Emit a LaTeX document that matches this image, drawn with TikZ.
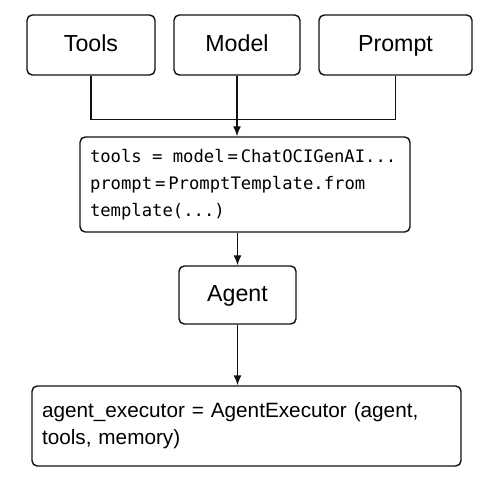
\documentclass[tikz,border=0pt]{standalone}
\usepackage{fontspec}
\usepackage{tikz}
\usetikzlibrary{
  arrows.meta,
  calc,
  positioning
}
\newfontfamily\boxfont{Liberation Sans}
\newfontfamily\codefont{DejaVu Sans Mono}
\newcommand{\monosp}{\kern0.6em}
\definecolor{ink}{HTML}{111111}
\definecolor{paper}{HTML}{FFFFFF}
\tikzset{
  link/.style={
    -{Latex[length=2mm,width=1.6mm]},
    line width=0.8pt,
    draw=ink
  },
  bus/.style={
    line width=0.8pt,
    draw=ink
  },
  block/.style={
    draw=ink,
    fill=paper,
    line width=0.8pt,
    rounded corners=3pt,
    minimum height=1.2cm,
    text height=0.72em,
    text depth=0pt,
    align=center,
    font=\boxfont\fontsize{13.2}{15}\selectfont
  },
  codebox/.style={
    draw=ink,
    fill=paper,
    line width=0.8pt,
    rounded corners=3pt,
    inner xsep=0.26cm,
    align=left
  }
}

\begin{document}
\begin{tikzpicture}
  \useasboundingbox[fill=paper] (0,0) rectangle (10,-10);

  \node[block, minimum width=2.56cm] (tools) at (1.82,-0.9) {Tools};
  \node[block, minimum width=2.52cm] (model) at (4.74,-0.9) {Model};
  \node[block, minimum width=3.06cm] (prompt) at (7.91,-0.9) {Prompt};

  \node[codebox, minimum width=6.6cm, minimum height=1.9cm,
        inner xsep=0.2cm, text width=6.2cm,
        font=\codefont\fontsize{9.8}{15.3}\selectfont]
    (setup) at (4.9,-3.69)
    {tools\monosp=\monosp model\,=\,ChatOCIGenAI...\\
     prompt\,=\,PromptTemplate.from\\
     template(...)};

  \node[block, minimum width=2.34cm, minimum height=1.16cm]
    (agent) at (4.75,-5.9) {Agent};

  \node[codebox, minimum width=8.58cm, minimum height=1.6cm,
        inner xsep=0.2cm, text width=8.18cm,
        font=\boxfont\fontsize{11.8}{15.3}\selectfont]
    (executor) at (4.93,-8.52)
    {agent\_executor = AgentExecutor (agent,\\
     tools, memory)};

  % three inputs join on one bus
  \coordinate (join) at ($(model.south)+(0,-0.88)$);
  \draw[bus] (tools.south) |- (join) -| (prompt.south);
  \draw[link] (model.south) -- (model.south |- setup.north);
  \draw[link] (agent.north |- setup.south) -- (agent.north);
  \draw[link] (agent.south) -- (agent.south |- executor.north);
\end{tikzpicture}
\end{document}
